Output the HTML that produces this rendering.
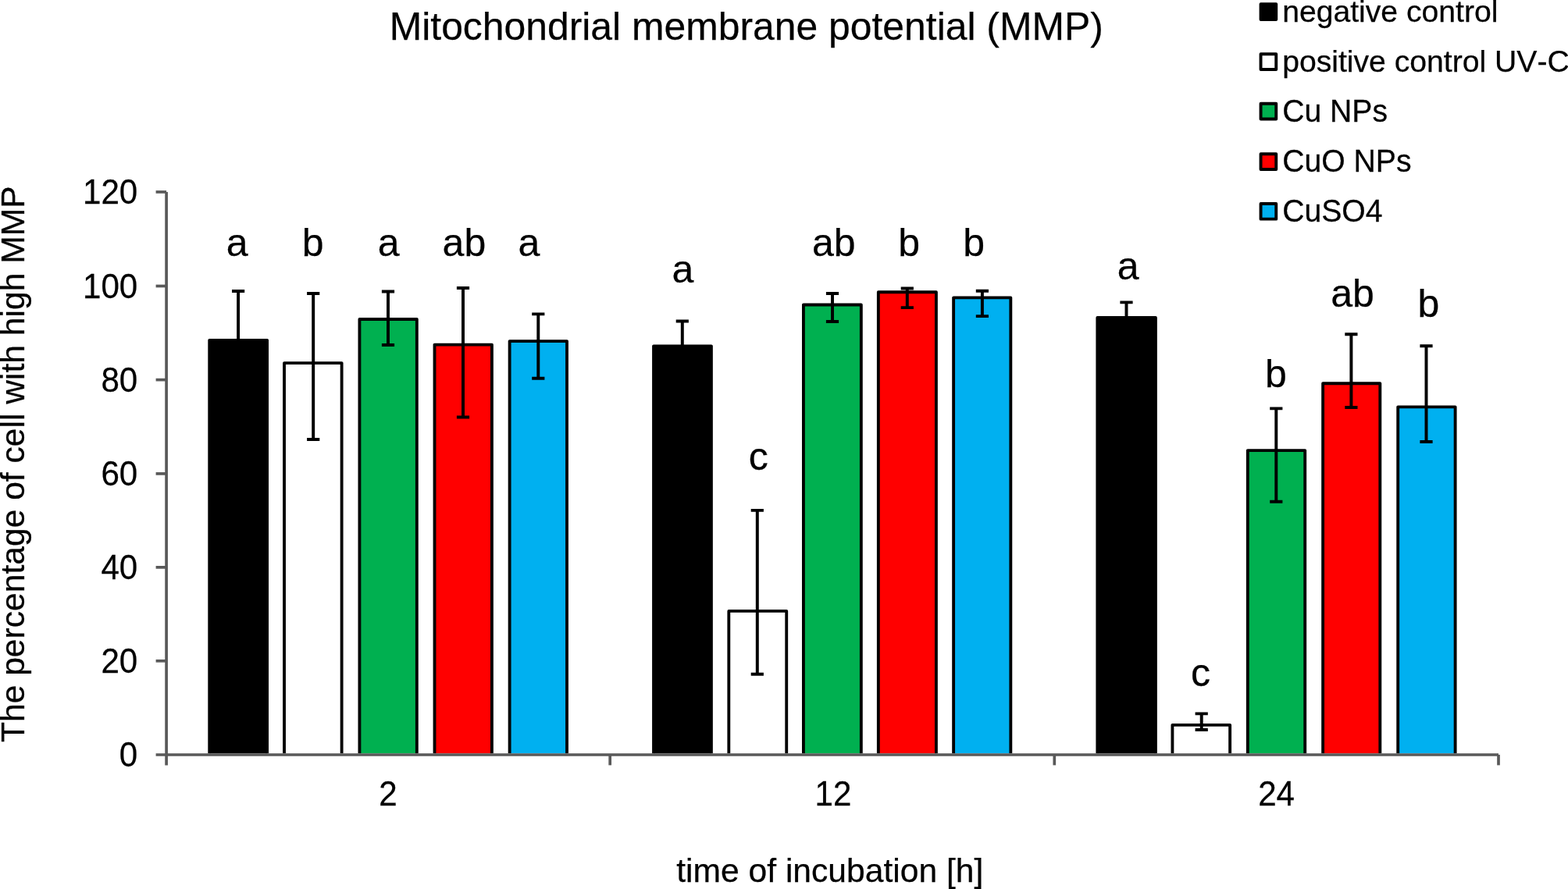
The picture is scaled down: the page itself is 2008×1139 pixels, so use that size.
<!DOCTYPE html>
<html lang="en"><head><meta charset="utf-8"><title>Mitochondrial membrane potential (MMP)</title>
<style>html,body{margin:0;padding:0;background:#fff}body{width:2008px;height:1139px;overflow:hidden}svg{display:block}text{font-family:'Liberation Sans', sans-serif;fill:#000;stroke:#000;stroke-width:0.25px;font-kerning:none}</style>
</head><body>
<svg width="2008" height="1139" viewBox="0 0 2008 1139">
<rect width="2008" height="1139" fill="#fff"/>
<text x="498.71" y="50.60" font-size="49.85">Mitochondrial membrane potential (MMP)</text>
<g stroke="#000" stroke-width="3.85" stroke-linejoin="round">
<path d="M268.23 965.15V435.82H342.12V965.15" fill="#000000"/>
<path d="M364.03 965.15V465.12H437.62V965.15" fill="#ffffff"/>
<path d="M460.43 965.15V409.03H533.83V965.15" fill="#00b050"/>
<path d="M556.52 965.15V441.62H629.93V965.15" fill="#ff0000"/>
<path d="M652.62 965.15V437.12H726.02V965.15" fill="#00b0f0"/>
<path d="M837.02 965.15V443.32H910.93V965.15" fill="#000000"/>
<path d="M933.32 965.15V782.92H1007.23V965.15" fill="#ffffff"/>
<path d="M1028.92 965.15V390.53H1102.83V965.15" fill="#00b050"/>
<path d="M1124.83 965.15V374.23H1198.93V965.15" fill="#ff0000"/>
<path d="M1221.12 965.15V381.32H1294.33V965.15" fill="#00b0f0"/>
<path d="M1405.33 965.15V407.03H1479.93V965.15" fill="#000000"/>
<path d="M1501.42 965.15V928.82H1575.13V965.15" fill="#ffffff"/>
<path d="M1597.83 965.15V577.12H1671.23V965.15" fill="#00b050"/>
<path d="M1694.12 965.15V491.23H1767.33V965.15" fill="#ff0000"/>
<path d="M1790.22 965.15V521.32H1863.63V965.15" fill="#00b0f0"/>
</g>
<g stroke="#000" stroke-width="3.95" fill="none">
<path d="M297.00 373.08H313.20M305.10 373.08V498.57M297.00 498.57H313.20"/>
<path d="M393.10 376.08H409.30M401.20 376.08V562.92M393.10 562.92H409.30"/>
<path d="M488.90 373.58H505.10M497.00 373.58V441.92M488.90 441.92H505.10"/>
<path d="M584.90 369.08H601.10M593.00 369.08V534.52M584.90 534.52H601.10"/>
<path d="M681.20 402.38H697.40M689.30 402.38V484.72M681.20 484.72H697.40"/>
<path d="M865.70 411.58H881.90M873.80 411.58V475.07M865.70 475.07H881.90"/>
<path d="M961.70 653.88H977.90M969.80 653.88V863.82M961.70 863.82H977.90"/>
<path d="M1057.90 376.08H1074.10M1066.00 376.08V411.92M1057.90 411.92H1074.10"/>
<path d="M1153.70 369.58H1169.90M1161.80 369.58V394.12M1153.70 394.12H1169.90"/>
<path d="M1249.80 372.78H1266.00M1257.90 372.78V405.12M1249.80 405.12H1266.00"/>
<path d="M1434.40 387.38H1450.60M1442.50 387.38V426.68M1434.40 426.68H1450.60"/>
<path d="M1530.60 914.38H1546.80M1538.70 914.38V934.92M1530.60 934.92H1546.80"/>
<path d="M1626.20 523.38H1642.40M1634.30 523.38V642.73M1626.20 642.73H1642.40"/>
<path d="M1722.30 428.28H1738.50M1730.40 428.28V521.92M1722.30 521.92H1738.50"/>
<path d="M1818.40 443.28H1834.60M1826.50 443.28V565.92M1818.40 565.92H1834.60"/>
</g>
<g stroke="#595959" stroke-width="3.70" fill="none" stroke-linejoin="round">
<path d="M213.10 245.95V980.40"/>
<path d="M199.60 967.00H1919.00"/>
<path d="M199.60 846.80H213.10"/>
<path d="M199.60 726.85H213.10"/>
<path d="M199.60 606.90H213.10"/>
<path d="M199.60 486.60H213.10"/>
<path d="M199.60 366.50H213.10"/>
<path d="M199.60 245.95H213.10"/>
<path d="M781.20 967.00V980.40"/>
<path d="M1350.30 967.00V980.40"/>
<path d="M1919.00 967.00V980.40"/>
</g>
<text transform="translate(176.27 982.10) scale(0.980 1.035)" font-size="43" text-anchor="end">0</text>
<text transform="translate(176.27 861.90) scale(0.980 1.035)" font-size="43" text-anchor="end">20</text>
<text transform="translate(176.27 741.95) scale(0.980 1.035)" font-size="43" text-anchor="end">40</text>
<text transform="translate(176.27 622.00) scale(0.980 1.035)" font-size="43" text-anchor="end">60</text>
<text transform="translate(176.27 501.70) scale(0.980 1.035)" font-size="43" text-anchor="end">80</text>
<text transform="translate(176.27 381.60) scale(0.980 1.035)" font-size="43" text-anchor="end">100</text>
<text transform="translate(176.27 261.05) scale(0.980 1.035)" font-size="43" text-anchor="end">120</text>
<text transform="translate(497.00 1031.90) scale(0.980 1.035)" font-size="43" text-anchor="middle">2</text>
<text transform="translate(1067.00 1031.90) scale(0.980 1.035)" font-size="43" text-anchor="middle">12</text>
<text transform="translate(1634.60 1031.90) scale(0.980 1.035)" font-size="43" text-anchor="middle">24</text>
<text x="866.25" y="1129.60" font-size="42.6">time of incubation [h]</text>
<text transform="translate(31.10 951.05) rotate(-90)" font-size="42.6">The percentage of cell with high MMP</text>
<text x="289.80" y="328.00" font-size="50">a</text>
<text x="386.70" y="328.00" font-size="50">b</text>
<text x="483.70" y="328.00" font-size="50">a</text>
<text x="566.60" y="328.00" font-size="50">ab</text>
<text x="663.40" y="328.00" font-size="50">a</text>
<text x="860.60" y="361.60" font-size="50">a</text>
<text x="958.70" y="601.80" font-size="50">c</text>
<text x="1040.00" y="328.00" font-size="50">ab</text>
<text x="1150.20" y="328.00" font-size="50">b</text>
<text x="1233.20" y="328.00" font-size="50">b</text>
<text x="1430.70" y="358.10" font-size="50">a</text>
<text x="1525.00" y="878.80" font-size="50">c</text>
<text x="1620.10" y="496.30" font-size="50">b</text>
<text x="1704.30" y="392.60" font-size="50">ab</text>
<text x="1815.50" y="406.20" font-size="50">b</text>
<rect x="1614.55" y="5.25" width="19.70" height="19.70" fill="#000000" stroke="#000" stroke-width="3.90" stroke-linejoin="round"/>
<text transform="translate(1642.16 27.75) scale(1 1.000)" font-size="39.15">negative control</text>
<rect x="1614.55" y="69.25" width="19.70" height="19.70" fill="#ffffff" stroke="#000" stroke-width="3.90" stroke-linejoin="round"/>
<text transform="translate(1642.16 91.90) scale(1 1.000)" font-size="39.15">positive control UV-C</text>
<rect x="1614.55" y="132.75" width="19.70" height="19.70" fill="#00b050" stroke="#000" stroke-width="3.90" stroke-linejoin="round"/>
<text transform="translate(1642.19 156.00) scale(1 1.060)" font-size="39.15">Cu NPs</text>
<rect x="1614.55" y="197.25" width="19.70" height="19.70" fill="#ff0000" stroke="#000" stroke-width="3.90" stroke-linejoin="round"/>
<text transform="translate(1642.19 219.60) scale(1 1.060)" font-size="39.15">CuO NPs</text>
<rect x="1614.55" y="260.95" width="19.70" height="19.70" fill="#00b0f0" stroke="#000" stroke-width="3.90" stroke-linejoin="round"/>
<text transform="translate(1642.19 284.00) scale(1 1.060)" font-size="39.15">CuSO4</text>
</svg>
</body></html>
